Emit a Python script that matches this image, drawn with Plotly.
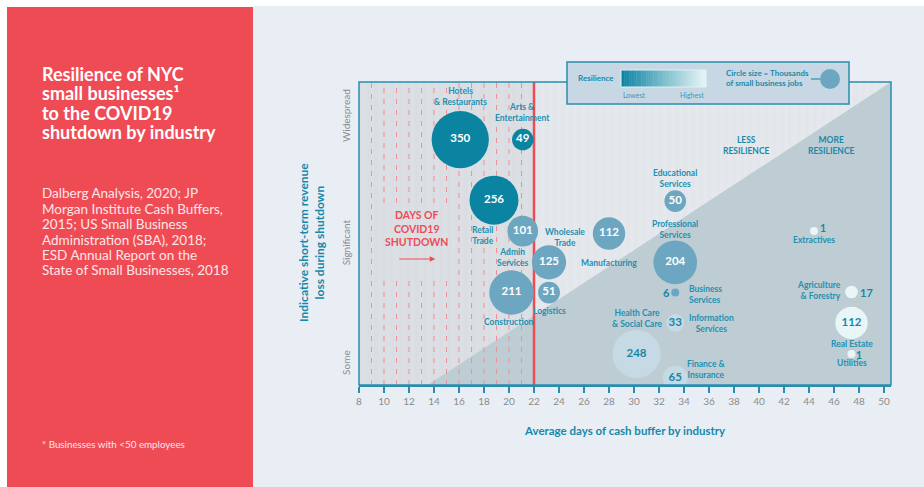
import plotly.graph_objects as go

# ---------------- data ----------------
industries = ["Hotels<br>& Restaurants", "Arts &<br>Entertainment", "Retail<br>Trade",
              "Wholesale<br>Trade", "Admin<br>Services", "Construction", "Logistics",
              "Manufacturing", "Educational<br>Services", "Professional<br>Services",
              "Business<br>Services", "Health Care<br>& Social Care", "Information<br>Services",
              "Finance &<br>Insurance", "Extractives", "Agriculture<br>& Forestry",
              "Real Estate", "Utilities"]
cash_buffer_days = [16.1, 21.1, 18.8, 21.1, 23.2, 20.2, 23.2, 28.0, 33.3, 33.3,
                    33.3, 30.2, 33.3, 33.3, 44.4, 47.4, 47.4, 47.4]
revenue_loss = [8.1, 8.1, 6.1, 5.08, 4.05, 3.05, 3.05, 5.0, 6.07, 4.05,
                3.05, 1.02, 2.05, 0.23, 5.08, 3.07, 2.05, 1.02]
jobs_thousands = [350, 49, 256, 101, 125, 211, 51, 112, 50, 204,
                  6, 248, 33, 65, 1, 17, 112, 1]
resilience_tier = [1, 1, 1, 2, 2, 2, 2, 2, 2, 2, 2, 3, 3, 3, 4, 4, 4, 4]

x_ticks = list(range(8, 51, 2))
y_tickvals = [0.69, 4.65, 8.84]
y_ticktext = ["Some", "Significant", "Widespread"]
shutdown_days = list(range(9, 22))
shutdown_end = 22

# ---------------- styling ----------------
TEAL = "#1a88a8"
TEAL_LINE = "#2a8db0"
RED = "#ee4b55"
tier_colors = {1: "#0b84a2", 2: "#6da6c1", 3: "#c6dae6", 4: "#e9f6f8"}
tier_text = {1: "white", 2: "white", 3: "#1a86a6", 4: "#1a86a6"}
FONT = "Lato"

PL, PR, PT, PB = 359, 891, 82, 385
XMIN = 8
XMAX = XMIN + (PR - PL) / 12.5
YMAX = 10


def px(v):
    return (v - PL) / (PR - PL)


def py(v):
    return (PB - v) / (PB - PT)


# label offsets (px) and anchors
label_style = [
    (0, 43, "center"), (0, 27, "center"), (-11, -35, "center"), (42, -6, "center"),
    (-36, 5, "center"), (-3, -29, "center"), (0, -18, "center"), (0, -29, "center"),
    (0, 23, "center"), (0, 33, "center"), (12, -2, "left"), (0, 36, "center"),
    (36, -1, "center"), (31, 9, "center"), (0, -9, "center"), (-9, 1, "right"),
    (0, -21, "center"), (0, -9, "center"),
]
outside_value_style = {10: (-9, 0, 11), 14: (9, 3, 10.5), 15: (15, -1, 11), 17: (7, -1, 10.5)}

fig = go.Figure()

colors = [tier_colors[t] for t in resilience_tier]
txtcolors = [tier_text[t] for t in resilience_tier]
inside_text = [str(v) if i not in outside_value_style else "" for i, v in enumerate(jobs_thousands)]

fig.add_trace(go.Scatter(
    x=cash_buffer_days, y=revenue_loss, mode="markers+text",
    text=inside_text, textposition="middle center",
    textfont=dict(family=FONT, size=11.5, color=txtcolors, weight="bold"),
    marker=dict(size=jobs_thousands, sizemode="area", sizeref=2 / 3.06 ** 2, sizemin=4,
                color=colors, line=dict(width=0), opacity=1),
    hoverinfo="skip", showlegend=False,
))

shapes = []
# page background & red panel
shapes.append(dict(type="rect", xref="paper", yref="paper", x0=px(253), x1=px(924), y0=py(6), y1=py(487),
                   fillcolor="#e9eef5", line=dict(width=0), layer="below"))
shapes.append(dict(type="rect", xref="paper", yref="paper", x0=px(7), x1=px(253), y0=py(7), y1=py(487),
                   fillcolor="#ef4b55", line=dict(width=0), layer="below"))
# plot backgrounds
shapes.append(dict(type="rect", xref="x", yref="y", x0=XMIN, x1=shutdown_end, y0=0, y1=YMAX,
                   fillcolor="#dadee2", line=dict(width=0), layer="below"))
shapes.append(dict(type="rect", xref="x", yref="y", x0=shutdown_end, x1=XMAX, y0=0, y1=YMAX,
                   fillcolor="#e3e7eb", line=dict(width=0), layer="below"))
# faint stripes
s = XMIN + 0.25
while s < XMAX - 0.3:
    shapes.append(dict(type="rect", xref="x", yref="y", x0=s, x1=s + 0.3, y0=0, y1=YMAX,
                       fillcolor="rgba(255,255,255,0.08)", line=dict(width=0), layer="below"))
    s += 0.65
# resilience triangle
shapes.append(dict(type="path", xref="x", yref="y",
                   path=f"M 13.5,0 L {XMAX},0 L {XMAX},{YMAX} Z",
                   fillcolor="#bdcdd3", line=dict(width=0), layer="below"))
# dashed shutdown lines
gap_lo, gap_hi = (PB - 280) / 30.3, (PB - 203) / 30.3
for d in shutdown_days:
    segs = [(0, YMAX)] if (d < 10 or d > 15) else [(0, gap_lo), (gap_hi, YMAX)]
    for a, b in segs:
        shapes.append(dict(type="line", xref="x", yref="y", x0=d, x1=d, y0=a, y1=b,
                           line=dict(color="#ef8f96", width=1, dash="5px,6px"), layer="below"))
shapes.append(dict(type="line", xref="x", yref="y", x0=shutdown_end, x1=shutdown_end, y0=0, y1=YMAX,
                   line=dict(color=RED, width=2.5), layer="below"))
# frame
shapes.append(dict(type="rect", xref="paper", yref="paper", x0=0, x1=1, y0=0, y1=1,
                   line=dict(color=TEAL_LINE, width=1.5), layer="above"))
# legend box
shapes.append(dict(type="rect", xref="paper", yref="paper", x0=px(567), x1=px(849), y0=py(104), y1=py(62),
                   fillcolor="#c7d8e4", line=dict(color=TEAL_LINE, width=1.5), layer="above"))
# gradient bar
N = 50
c0 = (0x0b, 0x84, 0xa2)
c1 = (0xe9, 0xf6, 0xf8)
gx0, gx1 = 621, 706
for i in range(N):
    t = i / (N - 1)
    col = "rgb(%d,%d,%d)" % tuple(round(c0[k] + (c1[k] - c0[k]) * t) for k in range(3))
    shapes.append(dict(type="rect", xref="paper", yref="paper",
                       x0=px(gx0 + (gx1 - gx0) * i / N), x1=px(gx0 + (gx1 - gx0) * (i + 1) / N + 0.3),
                       y0=py(87), y1=py(70), fillcolor=col, line=dict(width=0), layer="above"))
shapes.append(dict(type="rect", xref="paper", yref="paper", x0=px(gx0), x1=px(gx1), y0=py(87), y1=py(70),
                   line=dict(color="#e2eef3", width=1), layer="above"))
shapes.append(dict(type="line", xref="paper", yref="paper", x0=px(811), x1=px(820), y0=py(79), y1=py(79),
                   line=dict(color=TEAL_LINE, width=1.2), layer="above"))
shapes.append(dict(type="circle", xref="paper", yref="paper", x0=px(820), x1=px(840), y0=py(89), y1=py(69),
                   fillcolor="#6da6c1", line=dict(width=0), layer="above"))

ann = []


def pa(xp, yp, text, font, xanchor="center", align="center", textangle=0):
    ann.append(dict(x=px(xp), y=py(yp), xref="paper", yref="paper", text=text, showarrow=False,
                    xanchor=xanchor, yanchor="middle", align=align, textangle=textangle, font=font))


# industry labels
for i, name in enumerate(industries):
    dx, dy, anc = label_style[i]
    ann.append(dict(x=cash_buffer_days[i], y=revenue_loss[i], xref="x", yref="y", text=name,
                    showarrow=False, xshift=dx, yshift=dy, xanchor=anc, yanchor="middle", align=anc,
                    font=dict(family=FONT, size=8.5, color="#2290b2", weight="bold")))
# outside values
for i, (dx, dy, fs) in outside_value_style.items():
    ann.append(dict(x=cash_buffer_days[i], y=revenue_loss[i], xref="x", yref="y",
                    text=str(jobs_thousands[i]), showarrow=False, xshift=dx, yshift=dy,
                    xanchor="center", yanchor="middle",
                    font=dict(family=FONT, size=fs, color="#1a86a6", weight="bold")))

# shutdown text and arrow
ann.append(dict(x=12.56, y=5.18, xref="x", yref="y", text="DAYS OF<br>COVID19<br>SHUTDOWN",
                showarrow=False, xanchor="center", yanchor="middle",
                font=dict(family=FONT, size=10.5, color=RED, weight="bold")))
ann.append(dict(x=14.1, y=4.16, ax=11.1, ay=4.16, xref="x", yref="y", axref="x", ayref="y",
                text="", showarrow=True, arrowhead=2, arrowsize=1, arrowwidth=1.1, arrowcolor=RED))
pa(746, 145.5, "LESS<br>RESILIENCE", dict(family=FONT, size=8.5, color="#1a88a8", weight="bold"))
pa(831, 145.5, "MORE<br>RESILIENCE", dict(family=FONT, size=8.5, color="#1a88a8", weight="bold"))

# legend texts
pa(596, 78, "Resilience", dict(family=FONT, size=8, color="#1a88a8", weight="bold"))
pa(621, 95, "Lowest", dict(family=FONT, size=7, color="#3c97b6"), xanchor="left")
pa(706, 95, "Highest", dict(family=FONT, size=7, color="#3c97b6"), xanchor="right")
pa(724, 77.5, "Circle size = Thousands<br>of small business jobs",
   dict(family=FONT, size=8, color="#1a88a8", weight="bold"), xanchor="left", align="left")

# axis titles
pa(311, 243, "Indicative short-term revenue<br>loss during shutdown",
   dict(family=FONT, size=12, color="#1589aa", weight="bold"), textangle=-90)
pa(625, 430, "Average days of cash buffer by industry",
   dict(family=FONT, size=11.5, color="#1589aa", weight="bold"))

# left panel text
title_lines = ["Resilience of NYC", "small businesses¹", "to the COVID19", "shutdown by industry"]
for line, yy in zip(title_lines, [74, 93, 113, 132]):
    pa(40, yy, line, dict(family=FONT, size=18, color="white", weight="bold"), xanchor="left", align="left")
source_lines = ["Dalberg Analysis, 2020; JP", "Morgan Institute Cash Buffers,", "2015; US Small Business",
                "Administration (SBA), 2018;", "ESD Annual Report on the", "State of Small Businesses, 2018"]
for line, yy in zip(source_lines, [193, 208.5, 224, 239.5, 255, 270]):
    pa(40, yy, line, dict(family=FONT, size=13.5, color="#fde6e8"), xanchor="left", align="left")
pa(40, 444, "* Businesses with &lt;50 employees", dict(family=FONT, size=9.8, color="#fde6e8"),
   xanchor="left", align="left")

fig.update_layout(
    width=924, height=487,
    margin=dict(l=PL, r=924 - PR, t=PT, b=487 - PB),
    paper_bgcolor="white", plot_bgcolor="rgba(0,0,0,0)",
    shapes=shapes, annotations=ann, showlegend=False,
    xaxis=dict(range=[XMIN, XMAX], tickvals=x_ticks, ticks="outside", ticklen=6, tickwidth=1.5,
               tickcolor=TEAL_LINE, showline=True, linecolor=TEAL_LINE, linewidth=2,
               showgrid=False, zeroline=False,
               tickfont=dict(family=FONT, size=10, color="#8c8c8c")),
    yaxis=dict(range=[0, YMAX], tickvals=y_tickvals, ticktext=y_ticktext, tickangle=-90,
               showgrid=False, zeroline=False, showline=False, ticks="", ticklabelstandoff=6,
               tickfont=dict(family=FONT, size=10, color="#8c8c8c")),
)

fig.write_html("out.html")
